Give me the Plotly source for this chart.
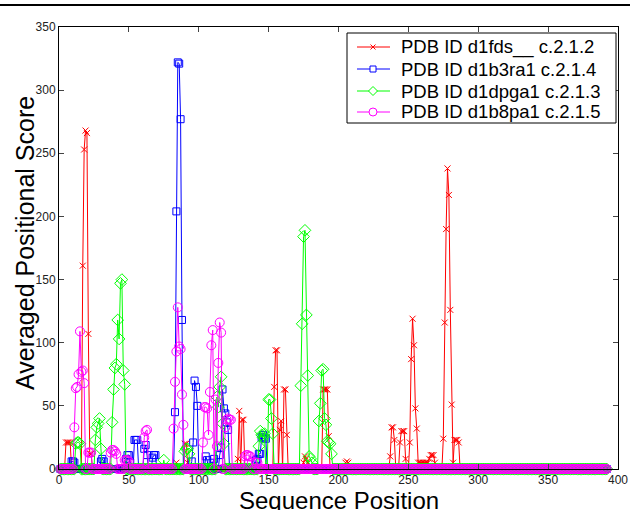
import plotly.graph_objects as go

SEQ_LEN = 392
X_TICKS = [0, 50, 100, 150, 200, 250, 300, 350, 400]
Y_TICKS = [0, 50, 100, 150, 200, 250, 300, 350]

# Non-zero points (position -> averaged positional score)
red_pos = [5, 6, 7, 8, 17, 18, 19, 20, 21, 22, 23, 84, 90, 91, 92,
           128, 129, 131, 132, 154, 155, 156, 158, 159, 161, 162, 163,
           175, 176, 177, 178, 189, 190, 191, 192, 193, 205, 206, 207,
           237, 238, 239, 240, 244, 245, 246, 247, 248, 251, 252, 253, 254, 255, 256, 257,
           258, 259, 260, 261, 262, 263, 264, 265, 266, 267, 268, 269,
           275, 276, 277, 278, 279, 280, 281, 282, 283, 284, 285, 286]
red_val = [21, 21, 21, 21, 161, 253, 268, 266, 107, 12, 12, 5, 20, 20, 5,
           8, 46, 39, 39, 65, 94, 94, 31, 38, 63, 63, 27,
           5, 10, 8, 5, 63, 63, 63, 63, 26, 5, 6, 5,
           10, 33, 33, 23, 21, 30, 30, 30, 8, 21, 87, 119, 98, 48, 32, 5,
           5, 5, 5, 5, 5, 5, 5, 8, 11, 11, 11, 5,
           24, 116, 190, 238, 217, 126, 51, 5, 23, 23, 23, 21]

blue_pos = [9, 10, 11, 30, 31, 32, 48, 49, 50, 51, 54, 55, 56, 61, 62, 63,
            67, 68, 69, 83, 84, 85, 86, 87, 88, 95, 96, 97, 98, 99,
            105, 106, 110, 111, 115, 116, 117, 118, 119, 120, 121,
            141, 142, 143, 144, 145, 146, 147, 148]
blue_val = [6, 6, 5, 6, 8, 6, 8, 11, 11, 5, 23, 23, 23, 16, 19, 11,
            9, 11, 11, 45, 204, 322, 321, 277, 118, 6, 21, 70, 65, 50,
            10, 7, 5, 8, 11, 17, 63, 48, 44, 37, 31,
            7, 8, 12, 12, 25, 27, 25, 24]

green_pos = [12, 13, 14, 15, 26, 27, 28, 29, 30,
             38, 39, 40, 41, 42, 43, 44, 45, 46, 47, 75,
             90, 91, 92, 93, 113, 114, 115, 116, 117, 118,
             143, 144, 145, 146, 147, 150, 151, 152, 153,
             173, 174, 175, 176, 177, 178, 179, 180, 181,
             186, 187, 188, 189, 190, 191, 192, 193, 194, 195]
green_val = [20, 21, 21, 20, 23, 33, 36, 40, 16,
             37, 63, 80, 83, 118, 103, 147, 150, 78, 67, 7,
             14, 16, 16, 12, 57, 49, 65, 73, 36, 20,
             18, 30, 27, 25, 28, 55, 55, 40, 28,
             66, 115, 184, 189, 122, 74, 10, 8, 5,
             38, 52, 78, 79, 40, 35, 22, 21, 20, 12]

magenta_pos = [11, 12, 13, 14, 15, 16, 17, 18, 21, 22, 23,
               37, 38, 39, 40, 41, 47, 48, 49, 50, 61, 62, 63,
               82, 83, 84, 85, 86, 87, 88, 89,
               103, 104, 105, 106, 107, 108, 109, 110, 112, 113, 114, 115, 116,
               119, 120, 121, 122, 123,
               133, 134, 135, 136, 137, 138, 141, 142]
magenta_val = [33, 64, 65, 75, 109, 77, 78, 68, 13, 13, 13,
               13, 15, 15, 14, 12, 7, 7, 7, 6, 25, 30, 31,
               32, 69, 93, 128, 97, 95, 59, 35,
               21, 49, 49, 48, 27, 61, 98, 110, 55, 18, 84, 116, 108,
               33, 39, 40, 39, 39,
               10, 11, 11, 10, 10, 5, 5, 5]

SERIES = [
    ("PDB ID d1fds__ c.2.1.2", red_pos, red_val, "#ff0000", "x-thin", 6),
    ("PDB ID d1b3ra1 c.2.1.4", blue_pos, blue_val, "#0000ff", "square-open", 7),
    ("PDB ID d1dpga1 c.2.1.3", green_pos, green_val, "#00ff00", "diamond-open", 9),
    ("PDB ID d1b8pa1 c.2.1.5", magenta_pos, magenta_val, "#ff00ff", "circle-open", 9),
]

positions = list(range(1, SEQ_LEN + 1))

# ---- layout geometry (pixels) ----
W, H = 630, 510
L, R, T, B = 59, 12, 27, 41
PW, PH = W - L - R, H - T - B


def px(xp):
    return (xp - L) / PW


def py(yp):
    return (H - B - yp) / PH


fig = go.Figure()
for name, pos, val, color, symbol, size in SERIES:
    lookup = dict(zip(pos, val))
    y = [lookup.get(p, 0) for p in positions]
    fig.add_trace(go.Scatter(
        x=positions, y=y, mode="lines+markers", name=name,
        line=dict(color=color, width=1),
        marker=dict(symbol=symbol, size=size, color=color,
                    line=dict(color=color, width=1)),
        cliponaxis=False,
    ))

font_family = "Liberation Sans, Arial, sans-serif"

shapes = [
    # top rule of the page
    dict(type="line", xref="paper", yref="paper", x0=px(0), x1=px(W),
         y0=py(5), y1=py(5), line=dict(color="black", width=2)),
    # legend box
    dict(type="rect", xref="paper", yref="paper", x0=px(347), x1=px(616),
         y0=py(33), y1=py(123), line=dict(color="black", width=1),
         fillcolor="white", layer="above"),
]
annotations = [
    dict(text="Sequence Position", xref="paper", yref="paper",
         x=0.5, y=py(500), xanchor="center", yanchor="middle",
         showarrow=False, font=dict(family=font_family, size=24, color="black")),
    dict(text="Averaged Positional Score", xref="paper", yref="paper",
         x=px(25), y=py(243), xanchor="center", yanchor="middle", textangle=-90,
         showarrow=False, font=dict(family=font_family, size=25, color="black")),
]

# legend entries drawn as shapes + text
row_y = [47, 69, 91, 112]
for (name, _, _, color, symbol, size), ry in zip(SERIES, row_y):
    shapes.append(dict(type="line", xref="paper", yref="paper",
                       x0=px(357), x1=px(390), y0=py(ry), y1=py(ry),
                       line=dict(color=color, width=1), layer="above"))
    cx = 373
    if symbol.startswith("x"):
        r = 2.5
        for dx in (-1, 1):
            shapes.append(dict(type="line", xref="paper", yref="paper",
                               x0=px(cx - r), x1=px(cx + r),
                               y0=py(ry - dx * r), y1=py(ry + dx * r),
                               line=dict(color=color, width=1), layer="above"))
    elif symbol.startswith("square"):
        r = 3
        shapes.append(dict(type="rect", xref="paper", yref="paper",
                           x0=px(cx - r), x1=px(cx + r), y0=py(ry - r), y1=py(ry + r),
                           line=dict(color=color, width=1), fillcolor="white", layer="above"))
    elif symbol.startswith("diamond"):
        r = 4.5
        path = "M {},{} L {},{} L {},{} L {},{} Z".format(
            px(cx), py(ry - r), px(cx + r), py(ry), px(cx), py(ry + r), px(cx - r), py(ry))
        shapes.append(dict(type="path", xref="paper", yref="paper", path=path,
                           line=dict(color=color, width=1), fillcolor="white", layer="above"))
    else:
        r = 4
        shapes.append(dict(type="circle", xref="paper", yref="paper",
                           x0=px(cx - r), x1=px(cx + r), y0=py(ry - r), y1=py(ry + r),
                           line=dict(color=color, width=1), fillcolor="white", layer="above"))
    annotations.append(dict(text=name, xref="paper", yref="paper",
                            x=px(399), y=py(ry), xanchor="left", yanchor="middle",
                            showarrow=False,
                            font=dict(family=font_family, size=18.5, color="black")))

fig.update_layout(
    width=W, height=H,
    margin=dict(l=L, r=R, t=T, b=B),
    paper_bgcolor="white", plot_bgcolor="white",
    font=dict(family=font_family, color="black", size=12),
    showlegend=False,
    xaxis=dict(range=[0, 400], tickvals=X_TICKS, ticks="inside", ticklen=5,
               showline=True, linecolor="black", linewidth=1, mirror="ticks",
               showgrid=False, zeroline=False, automargin=False,
               tickfont=dict(family=font_family, size=12, color="#222")),
    yaxis=dict(range=[0, 350], tickvals=Y_TICKS, ticks="inside", ticklen=5,
               showline=True, linecolor="black", linewidth=1, mirror="ticks",
               showgrid=False, zeroline=False, automargin=False,
               tickfont=dict(family=font_family, size=12, color="#222")),
    annotations=annotations,
    shapes=shapes,
)

fig.write_html("out.html",
               config={"displayModeBar": False},
               post_script="document.body.style.margin='0px';"
                           "document.body.style.overflow='hidden';")
